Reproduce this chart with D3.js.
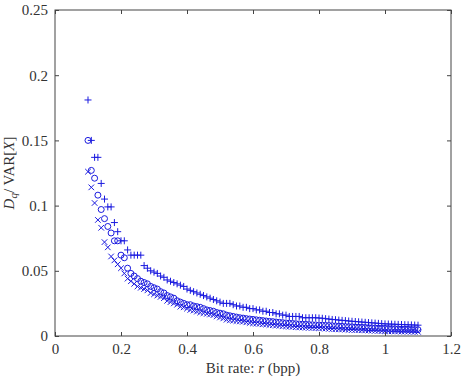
<!DOCTYPE html>
<html>
<head>
<meta charset="utf-8">
<script src="https://cdn.jsdelivr.net/npm/d3@7"></script>
<style>
  body { margin: 0; background: #fff; }
</style>
</head>
<body>
<svg id="chart" width="464" height="378"></svg>
<script>
// bit rates (bpp)
var rates = [0.10,0.11,0.12,0.13,0.14,0.15,0.16,0.17,0.18,0.19,
  0.20,0.21,0.22,0.23,0.24,0.25,0.26,0.27,0.28,0.29,
  0.30,0.31,0.32,0.33,0.34,0.35,0.36,0.37,0.38,0.39,
  0.40,0.41,0.42,0.43,0.44,0.45,0.46,0.47,0.48,0.49,
  0.50,0.51,0.52,0.53,0.54,0.55,0.56,0.57,0.58,0.59,
  0.60,0.61,0.62,0.63,0.64,0.65,0.66,0.67,0.68,0.69,
  0.70,0.71,0.72,0.73,0.74,0.75,0.76,0.77,0.78,0.79,
  0.80,0.81,0.82,0.83,0.84,0.85,0.86,0.87,0.88,0.89,
  0.90,0.91,0.92,0.93,0.94,0.95,0.96,0.97,0.98,0.99,
  1.00,1.01,1.02,1.03,1.04,1.05,1.06,1.07,1.08,1.09,1.10];

// normalised distortion, "+" markers
var plusVals = [.181,.150,.137,.137,.117,.105,.099,.099,.087,.080,
  .073,.073,.066,.062,.062,.062,.062,.054,.052,.050,
  .049,.048,.046,.045,.043,.042,.041,.040,.039,.038,
  .036,.035,.034,.033,.032,.031,.030,.029,.028,.027,
  .026,.025,.025,.025,.024,.023,.023,.022,.022,.021,
  .021,.020,.020,.019,.019,.018,.018,.017,.017,.016,
  .016,.015,.015,.015,.015,.014,.014,.014,.014,.014,
  .0138,.0136,.0133,.0130,.0127,.0125,.0122,.0120,.0118,.0115,
  .0113,.0111,.0109,.0107,.0105,.0103,.0101,.0099,.0097,.0095,
  .0093,.0092,.0091,.0090,.0089,.0088,.0087,.0086,.0085,.0084,.0083];

// "o" markers
var circleVals = [.150,.127,.121,.108,.097,.090,.084,.079,.073,.073,
  .062,.060,.052,.048,.046,.044,.042,.041,.040,.038,
  .037,.036,.034,.033,.031,.030,.029,.027,.026,.025,
  .024,.024,.023,.0225,.022,.021,.020,.0195,.019,.018,
  .0175,.017,.016,.0155,.015,.0145,.014,.0137,.0133,.0130,
  .0127,.0124,.0121,.0118,.0115,.0112,.0110,.0107,.0105,.0102,
  .0100,.0098,.0096,.0094,.0092,.0090,.0089,.0087,.0086,.0085,
  .0084,.0083,.0081,.0080,.0078,.0077,.0075,.0074,.0072,.0071,
  .0070,.0068,.0067,.0066,.0065,.0063,.0062,.0061,.0060,.0059,
  .0058,.0057,.0056,.0055,.0054,.0053,.0052,.0051,.0050,.0049,.0048];

// "x" markers
var crossVals = [.126,.114,.102,.089,.083,.072,.068,.061,.058,.055,
  .052,.048,.044,.042,.040,.038,.037,.036,.035,.033,
  .032,.031,.030,.029,.027,.026,.025,.024,.0225,.022,
  .021,.020,.0195,.0187,.018,.0175,.017,.0165,.016,.015,
  .0142,.0135,.0125,.0120,.0118,.0115,.0112,.0110,.0105,.0100,
  .0097,.0095,.0093,.0090,.0088,.0085,.0083,.0080,.0078,.0076,
  .0074,.0072,.0070,.0068,.0066,.0065,.0064,.0063,.0062,.0061,
  .0060,.0059,.0057,.0055,.0054,.0052,.0051,.0050,.0049,.0048,
  .0047,.0046,.0045,.0044,.0043,.0042,.0041,.0040,.0039,.0038,
  .0037,.0036,.0036,.0035,.0035,.0034,.0034,.0033,.0033,.0032,.0032];

var xTicks = [0, 0.2, 0.4, 0.6, 0.8, 1, 1.2];
var yTicks = [0, 0.05, 0.1, 0.15, 0.2, 0.25];

var serif = "Liberation Serif";

var svg = d3.select("#chart"),
    margin = {top: 10, right: 13, bottom: 42, left: 55},
    width = +svg.attr("width") - margin.left - margin.right,
    height = +svg.attr("height") - margin.top - margin.bottom,
    g = svg.append("g").attr("transform", "translate(" + margin.left + "," + margin.top + ")");

var x = d3.scaleLinear().domain([0, 1.2]).range([0, width]);
var y = d3.scaleLinear().domain([0, 0.25]).range([height, 0]);

var blue = "#1a1adf";

// markers
function series(vals) {
  return rates.map(function(r, i) { return {r: r, v: vals[i]}; });
}

g.selectAll("path.plus")
  .data(series(plusVals))
  .enter().append("path")
    .attr("class", "plus")
    .attr("d", function(d) {
      var cx = x(d.r), cy = y(d.v), s = 3.5;
      return "M" + (cx - s) + "," + cy + "H" + (cx + s) + "M" + cx + "," + (cy - s) + "V" + (cy + s);
    })
    .attr("stroke", blue).attr("stroke-width", 1).attr("fill", "none");

g.selectAll("circle.ring")
  .data(series(circleVals))
  .enter().append("circle")
    .attr("class", "ring")
    .attr("cx", function(d) { return x(d.r); })
    .attr("cy", function(d) { return y(d.v); })
    .attr("r", 3)
    .attr("stroke", blue).attr("stroke-width", 1).attr("fill", "none");

g.selectAll("path.cross")
  .data(series(crossVals))
  .enter().append("path")
    .attr("class", "cross")
    .attr("d", function(d) {
      var cx = x(d.r), cy = y(d.v), s = 2.8;
      return "M" + (cx - s) + "," + (cy - s) + "L" + (cx + s) + "," + (cy + s) +
             "M" + (cx - s) + "," + (cy + s) + "L" + (cx + s) + "," + (cy - s);
    })
    .attr("stroke", blue).attr("stroke-width", 1).attr("fill", "none");

// axes: ticks inward on all four sides
var axisColor = "#444";
function styleAxis(sel) {
  sel.attr("font-family", serif).attr("font-size", 15);
  sel.select(".domain").remove();
  sel.selectAll(".tick line").attr("stroke", axisColor);
  sel.selectAll(".tick text").attr("fill", "#333");
}

g.append("g")
  .attr("transform", "translate(0," + height + ")")
  .call(d3.axisBottom(x).tickValues(xTicks).tickSize(-4).tickPadding(7).tickFormat(d3.format("")))
  .call(styleAxis);

g.append("g")
  .call(d3.axisTop(x).tickValues(xTicks).tickSize(-4).tickFormat(""))
  .call(styleAxis);

g.append("g")
  .call(d3.axisLeft(y).tickValues(yTicks).tickSize(-4).tickPadding(7).tickFormat(d3.format("")))
  .call(styleAxis);

g.append("g")
  .attr("transform", "translate(" + width + ",0)")
  .call(d3.axisRight(y).tickValues(yTicks).tickSize(-4).tickFormat(""))
  .call(styleAxis);

g.append("rect")
  .attr("x", 0).attr("y", 0)
  .attr("width", width).attr("height", height)
  .attr("fill", "none").attr("stroke", axisColor).attr("stroke-width", 1);

// axis labels
var xl = svg.append("text")
  .attr("x", margin.left + width / 2)
  .attr("y", 373)
  .attr("text-anchor", "middle")
  .attr("font-family", serif)
  .attr("font-size", 15)
  .attr("fill", "#333");
xl.append("tspan").text("Bit rate: ");
xl.append("tspan").attr("font-style", "italic").text("r");
xl.append("tspan").text(" (bpp)");

var yl = svg.append("text")
  .attr("transform", "translate(14," + (margin.top + height / 2) + ") rotate(-90)")
  .attr("text-anchor", "middle")
  .attr("font-family", serif)
  .attr("font-size", 15)
  .attr("fill", "#333");
yl.append("tspan").attr("font-style", "italic").text("D");
yl.append("tspan").attr("font-style", "italic").attr("font-size", 11).attr("dy", 3).text("q");
yl.append("tspan").attr("dy", -3).text("/ VAR[");
yl.append("tspan").attr("font-style", "italic").text("X");
yl.append("tspan").text("]");
</script>
</body>
</html>
